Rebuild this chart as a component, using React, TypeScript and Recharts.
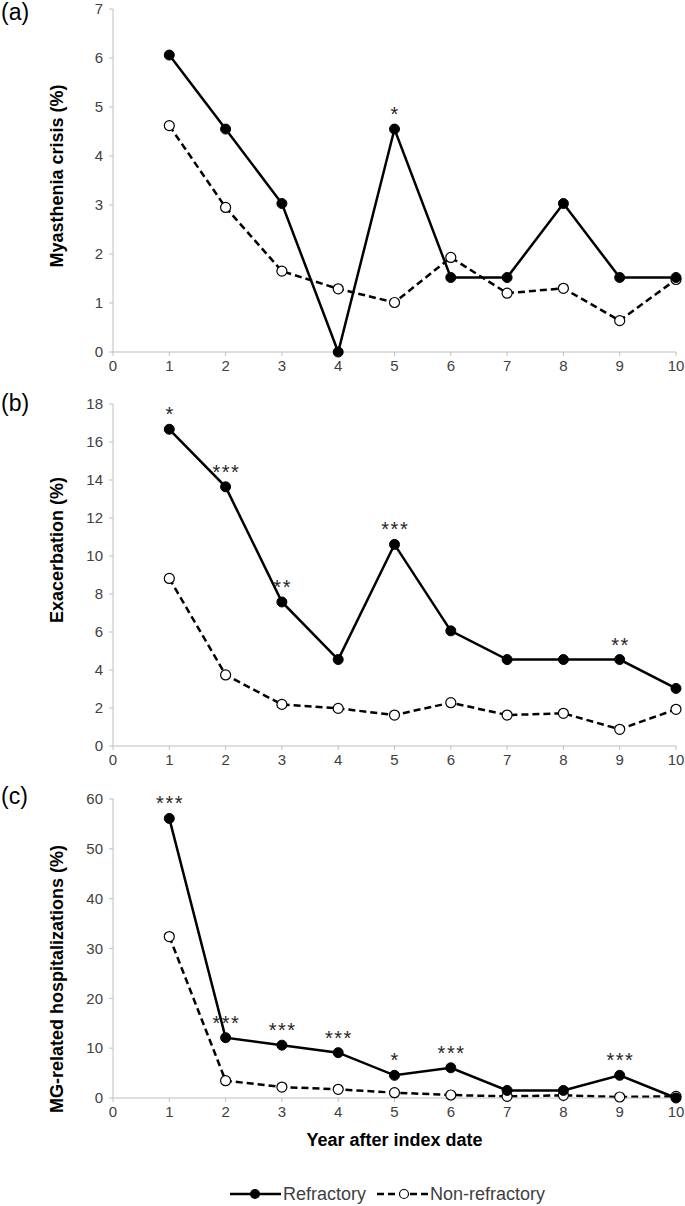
import React from 'react';
import { LineChart, Line, XAxis, YAxis, LabelList } from 'recharts';

const years = [1, 2, 3, 4, 5, 6, 7, 8, 9, 10];
const xTicks = [0, 1, 2, 3, 4, 5, 6, 7, 8, 9, 10];

const crisisRefractory = [6.06, 4.55, 3.03, 0, 4.55, 1.52, 1.52, 3.03, 1.52, 1.52];
const crisisNonRefractory = [4.62, 2.95, 1.65, 1.29, 1.01, 1.93, 1.2, 1.3, 0.64, 1.48];
const crisisStars = ['', '', '', '', '*', '', '', '', '', ''];
const crisisTicks = [0, 1, 2, 3, 4, 5, 6, 7];

const exacRefractory = [16.67, 13.64, 7.58, 4.55, 10.61, 6.06, 4.55, 4.55, 4.55, 3.03];
const exacNonRefractory = [8.82, 3.74, 2.19, 1.98, 1.63, 2.28, 1.63, 1.72, 0.88, 1.93];
const exacStars = ['*', '***', '**', '', '***', '', '', '', '**', ''];
const exacTicks = [0, 2, 4, 6, 8, 10, 12, 14, 16, 18];

const hospRefractory = [56.1, 12.1, 10.6, 9.1, 4.55, 6.06, 1.52, 1.52, 4.55, 0];
const hospNonRefractory = [32.4, 3.47, 2.2, 1.74, 1.07, 0.6, 0.33, 0.53, 0.2, 0.33];
const hospStars = ['***', '***', '***', '***', '*', '***', '', '', '***', ''];
const hospTicks = [0, 10, 20, 30, 40, 50, 60];

const FONT = '"Liberation Sans", Arial, sans-serif';
const AXIS = '#bfbfbf';
const TEXT = '#404040';

const build = (ref: number[], non: number[], stars: string[]) =>
  years.map((year, i) => ({ year, refractory: ref[i], nonRefractory: non[i], stars: stars[i] }));

// significance asterisks above the refractory points
const StarLabel = (props: any) => {
  const { x, y, value } = props;
  if (!value) return null;
  return (
    <text x={x + 0.75} y={y - 8} textAnchor="middle" fontSize={20} fill="#262626" fontFamily={FONT} letterSpacing={1.5}>
      {value}
    </text>
  );
};

interface PanelProps {
  tag: string;
  title: string;
  data: any[];
  yTicks: number[];
  top: number;
  height: number;
  marginTop: number;
  tagTop: number;
  titleCenter: number;
}

function Panel({ tag, title, data, yTicks, top, height, marginTop, tagTop, titleCenter }: PanelProps) {
  return (
    <>
      <div style={{ position: 'absolute', left: 1, top: tagTop, fontSize: 23, fontFamily: FONT, color: '#000', lineHeight: '26px' }}>
        {tag}
      </div>
      <div
        style={{
          position: 'absolute', left: 57 - 200, top: titleCenter - 11, width: 400, height: 22,
          lineHeight: '22px', textAlign: 'center', transform: 'rotate(-90deg)',
          fontFamily: FONT, fontWeight: 700, fontSize: 18, color: '#000',
        }}
      >
        {title}
      </div>
      <div style={{ position: 'absolute', left: 0, top }}>
        <LineChart width={685} height={height} data={data} margin={{ top: marginTop, right: 9, bottom: 6, left: 73 }}>
          <XAxis
            type="number"
            dataKey="year"
            domain={[0, 10]}
            ticks={xTicks}
            interval={0}
            height={22}
            stroke={AXIS}
            tickSize={4}
            tickMargin={4}
            tick={{ fill: TEXT, fontSize: 15, fontFamily: FONT }}
          />
          <YAxis
            domain={[yTicks[0], yTicks[yTicks.length - 1]]}
            ticks={yTicks}
            interval={0}
            width={40}
            stroke={AXIS}
            tickSize={4}
            tickMargin={6}
            tick={{ fill: TEXT, fontSize: 15, fontFamily: FONT }}
          />
          <Line
            dataKey="nonRefractory"
            stroke="#000"
            strokeWidth={2.5}
            strokeDasharray="7 4"
            dot={{ r: 5, fill: '#fff', stroke: '#000', strokeWidth: 1.2, strokeDasharray: '' }}
            isAnimationActive={false}
          />
          <Line
            dataKey="refractory"
            stroke="#000"
            strokeWidth={2.5}
            dot={{ r: 5, fill: '#000', stroke: '#000', strokeWidth: 1 }}
            isAnimationActive={false}
          >
            <LabelList dataKey="stars" content={StarLabel} />
          </Line>
        </LineChart>
      </div>
    </>
  );
}

export default function App() {
  return (
    <div style={{ position: 'absolute', left: 0, top: 0, width: 685, height: 1206, background: '#fff', overflow: 'hidden' }}>
      <Panel
        tag="(a)"
        title="Myasthenia crisis (%)"
        data={build(crisisRefractory, crisisNonRefractory, crisisStars)}
        yTicks={crisisTicks}
        top={0}
        height={380}
        marginTop={9}
        tagTop={-1}
        titleCenter={176}
      />
      <Panel
        tag="(b)"
        title="Exacerbation (%)"
        data={build(exacRefractory, exacNonRefractory, exacStars)}
        yTicks={exacTicks}
        top={390}
        height={384}
        marginTop={14}
        tagTop={390}
        titleCenter={550}
      />
      <Panel
        tag="(c)"
        title="MG-related hospitalizations (%)"
        data={build(hospRefractory, hospNonRefractory, hospStars)}
        yTicks={hospTicks}
        top={785}
        height={341}
        marginTop={14}
        tagTop={783}
        titleCenter={979}
      />
      <div
        style={{
          position: 'absolute', left: 113, width: 563, top: 1130, textAlign: 'center',
          fontFamily: FONT, fontWeight: 700, fontSize: 18, color: '#000',
        }}
      >
        Year after index date
      </div>
      <div
        style={{
          position: 'absolute', left: 230, top: 1183, display: 'flex', alignItems: 'center',
          fontFamily: FONT, fontSize: 18, color: TEXT, lineHeight: '22px',
        }}
      >
        <svg width={51} height={14}>
          <line x1={0} y1={7} x2={51} y2={7} stroke="#000" strokeWidth={2.5} />
          <circle cx={25} cy={7} r={5} fill="#000" />
        </svg>
        <span style={{ marginLeft: 2 }}>Refractory</span>
        <svg width={51} height={14} style={{ marginLeft: 11 }}>
          <line x1={0} y1={7} x2={51} y2={7} stroke="#000" strokeWidth={2.5} strokeDasharray="7 4" />
          <circle cx={27} cy={7} r={4.5} fill="#fff" stroke="#000" strokeWidth={1.2} />
        </svg>
        <span style={{ marginLeft: 2 }}>Non-refractory</span>
      </div>
    </div>
  );
}
